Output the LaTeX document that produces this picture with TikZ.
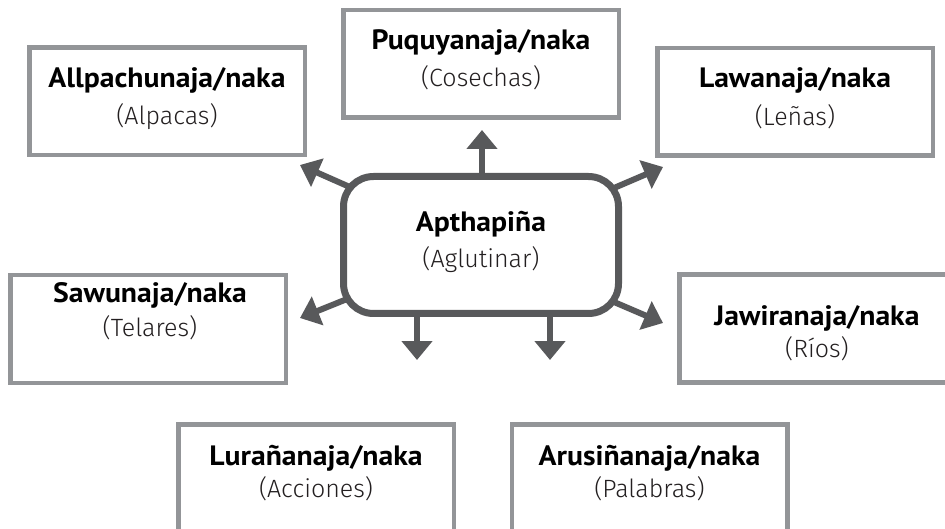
\documentclass[tikz,border=0pt]{standalone}
\usepackage{fontspec}
\setmainfont{PT Sans}[BoldFeatures={FakeStretch=1.06}]
\newfontfamily\lightf{Fira Sans Light}
\usetikzlibrary{arrows.meta}
\pgfdeclarelayer{bg}
\pgfsetlayers{bg,main}
\definecolor{boxgray}{HTML}{939598}
\definecolor{dark}{HTML}{58595B}
\definecolor{txt}{HTML}{231F20}
\begin{document}
\begin{tikzpicture}[x=1pt,y=-1pt,
  box/.style={draw=boxgray, line width=4.5pt, fill=white, minimum width=275.5pt, minimum height=107.5pt, inner sep=0pt, outer sep=0pt},
  hub/.style={draw=dark, line width=7pt, fill=white, rounded corners=30pt, minimum width=275pt, minimum height=137pt, inner sep=0pt, outer sep=0pt},
  ttl/.style={anchor=base, inner sep=0pt, font=\fontsize{28}{32}\selectfont\bfseries, text=black},
  sub/.style={anchor=base, inner sep=0pt, font=\fontsize{25}{30}\selectfont\lightf, text=txt},
  arr/.style={draw=dark, line width=6pt, -{Triangle[width=30pt,length=19pt]}}]
\clip (0,0) rectangle (945,529);
% outer boxes
\node[box] (allpa) at (167,101.5) {};
\node[box] (puqu) at (481,64) {};
\node[box] (lawa) at (795,102) {};
\node[box] (sawu) at (148,329) {};
\node[box] (jawi) at (817,328.5) {};
\node[box] (lura) at (316,478) {};
\node[box] (arus) at (649.5,478) {};
% central box
\node[hub] (hub) at (481,245) {};
% texts
\node[ttl] (allpaT) at (167,88) {Allpachunaja/naka};
\node[sub] (allpaS) at (167,125) {(Alpacas)};
\node[ttl] (puquT) at (481,50) {Puquyanaja/naka};
\node[sub] (puquS) at (481,87) {(Cosechas)};
\node[ttl] (lawaT) at (795,88) {Lawanaja/naka};
\node[sub] (lawaS) at (795,126) {(Leñas)};
\node[ttl] (sawuT) at (150,302) {Sawunaja/naka};
\node[sub] (sawuS) at (150,337) {(Telares)};
\node[ttl] (jawiT) at (817,325) {Jawiranaja/naka};
\node[sub] (jawiS) at (817,357) {(Ríos)};
\node[ttl] (luraT) at (316,465) {Lurañanaja/naka};
\node[sub] (luraS) at (316,497) {(Acciones)};
\node[ttl] (arusT) at (649.5,465) {Arusiñanaja/naka};
\node[sub] (arusS) at (649.5,497) {(Palabras)};
\node[ttl] (hubT) at (481,232) {Apthapiña};
\node[sub] (hubS) at (481,268) {(Aglutinar)};
% arrow tips
\coordinate (tN) at (482,130);
\coordinate (tNW) at (300,165);
\coordinate (tNE) at (663,167);
\coordinate (tSW) at (300,318);
\coordinate (tSE) at (663,323);
\coordinate (tS1) at (417,360);
\coordinate (tS2) at (550,360);
\begin{pgfonlayer}{bg}
\fill[white] (0,0) rectangle (945,529);
\draw[arr] (tN |- hub.center) -- (tN);
\draw[arr] (hub.center) -- (tNW);
\draw[arr] (hub.center) -- (tNE);
\draw[arr] (hub.center) -- (tSW);
\draw[arr] (hub.center) -- (tSE);
\draw[arr] (tS1 |- hub.center) -- (tS1);
\draw[arr] (tS2 |- hub.center) -- (tS2);
\end{pgfonlayer}
\end{tikzpicture}
\end{document}
